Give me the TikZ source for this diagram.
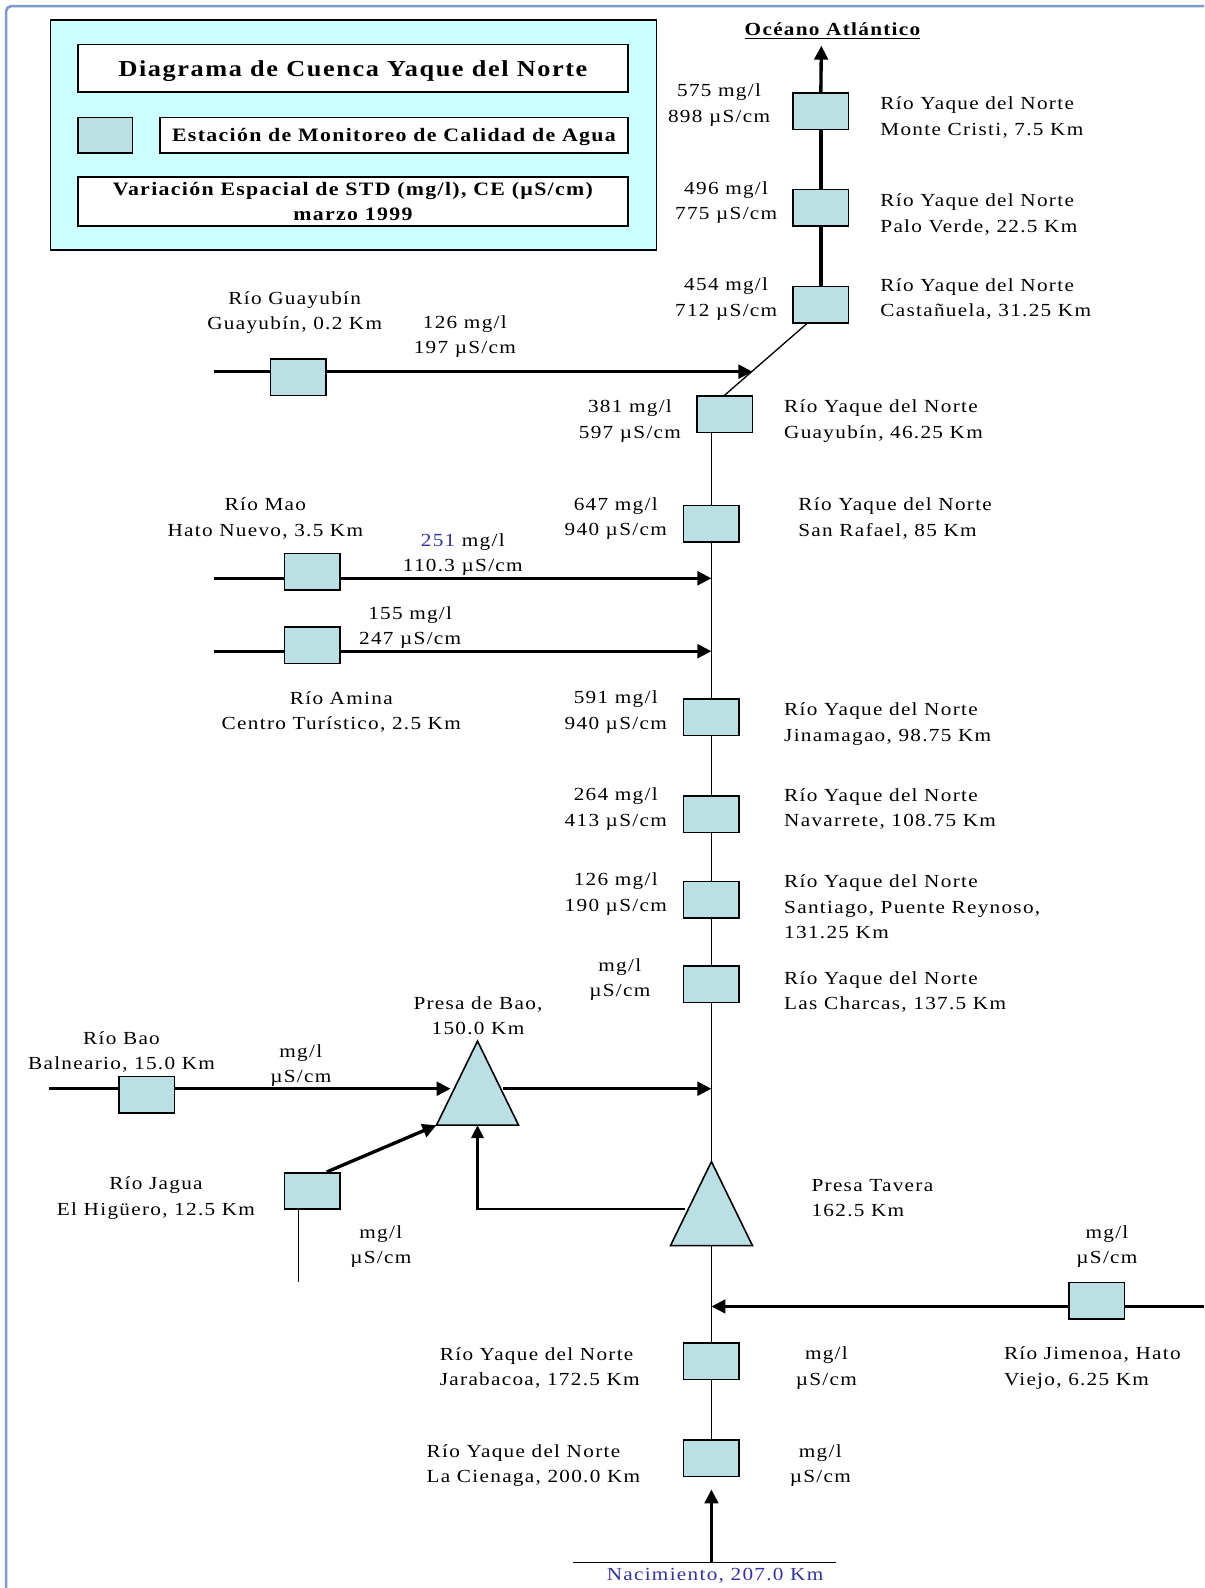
\documentclass[tikz,border=0pt]{standalone}
\usepackage{fontspec}
\setmainfont{Liberation Serif}[FakeStretch=1.15,LetterSpace=7]
\usepackage{tikz}
\usetikzlibrary{arrows.meta,positioning,calc}
\definecolor{stationfill}{RGB}{187,224,227}
\definecolor{legendfill}{RGB}{204,255,255}
\definecolor{frameblue}{RGB}{125,155,210}
\definecolor{labelblue}{RGB}{50,50,165}
\newcommand{\riverfont}{\fontsize{10.5}{14.5}\selectfont}
\tikzset{
    station/.style={
        rectangle,
        draw,
        fill=stationfill,
        line width=0.9pt,
        minimum width=1.11cm,
        minimum height=0.73cm,
        inner sep=0pt
    },
    dam/.style={draw, fill=stationfill, line width=0.9pt},
    keybox/.style={rectangle, draw, fill=white, line width=0.9pt, inner sep=0pt, align=center, font=\bfseries\fontsize{10.8}{13.8}\selectfont},
    datalabel/.style={inner sep=0pt, align=center, yshift=-0.05cm, font=\riverfont},
    sitelabel/.style={inner sep=0pt, align=left, anchor=west, yshift=-0.05cm, font=\riverfont},
    mainflow/.style={line width=1.9pt},
    stem/.style={line width=0.75pt},
    flow/.style={-{Triangle[length=0.28cm,width=0.27cm]}, line width=1.9pt},
    returnflow/.style={-{Triangle[length=0.26cm,width=0.25cm]}, line width=1.3pt},
}

\begin{document}
\begin{tikzpicture}[x=0.02025cm, y=-0.02025cm]
    \useasboundingbox (0,0) rectangle (1189,1568);
    \draw[frameblue, line width=1.5pt, rounded corners=3pt] (6,1568) |- (1189,6);

    \node[rectangle, draw, fill=legendfill, line width=0.9pt, minimum width=12.11cm, minimum height=4.6cm] (legend) at (349,133.5) {};
    \node[keybox, minimum width=11cm, minimum height=0.95cm, text depth=0pt, font=\bfseries\fontsize{13}{15}\selectfont] (title) at (348.5,67.5) {Diagrama de Cuenca Yaque del Norte};
    \node[station, minimum width=1.09cm, minimum height=0.71cm] (swatch) at (104,133.5) {};
    \node[keybox, minimum width=9.36cm, minimum height=0.71cm, text depth=0pt] (stationkey) at (389,133.5) {Estación de Monitoreo de Calidad de Agua};
    \node[keybox, minimum width=11cm, minimum height=0.97cm] (variation) at (348.5,199) {Variación Espacial de STD (mg/l), CE (µS/cm)\\marzo 1999};

    \node[inner sep=0pt, yshift=-0.05cm, font=\bfseries\fontsize{10.5}{13}\selectfont] (ocean) at (822,28) {\underline{Océano Atlántico}};
    \coordinate (oceantip) at (811,45);

    \node[station] (mc) at (810.5,110) {};
    \node[station] (pv) at (810.5,205) {};
    \node[station] (cas) at (810.5,301) {};
    \node[station] (gy) at (715.5,409) {};
    \node[station] (sr) at (702.5,517) {};
    \node[station] (jin) at (702.5,708) {};
    \node[station] (nav) at (702.5,804) {};
    \node[station] (stg) at (702.5,888.5) {};
    \node[station] (lch) at (702.5,972) {};
    \node[station] (jar) at (702.5,1344) {};
    \node[station] (cie) at (702.5,1440) {};

    \node[station] (gyr) at (294.5,372.5) {};
    \node[station] (mao) at (308.5,564.5) {};
    \node[station] (amina) at (308.5,637) {};
    \node[station] (baor) at (145,1081) {};
    \node[station] (jagua) at (308.5,1176) {};
    \node[station] (jim) at (1083,1284.5) {};

    \coordinate (baotop) at (471.5,1028);
    \coordinate (baoleft) at (431,1111);
    \coordinate (baoright) at (512,1111);
    \coordinate (baobase) at (471.5,1111);
    \draw[dam] (baotop) -- (baoleft) -- (baoright) -- cycle;
    \coordinate (tavtop) at (702.5,1147);
    \coordinate (tavleft) at (662,1230);
    \coordinate (tavright) at (743,1230);
    \coordinate (tavbase) at (702.5,1230);
    \draw[dam] (tavtop) -- (tavleft) -- (tavright) -- cycle;

    \coordinate (gywest) at (211,367);
    \coordinate (gyjoin) at (743,367);
    \coordinate (maowest) at (211,571);
    \coordinate (aminawest) at (211,643);
    \coordinate (baowest) at (48,1075);
    \coordinate (baoin) at (445,1075);
    \coordinate (baoout) at (497,1075);
    \coordinate (jagtail) at (295,1266);
    \coordinate (tavside) at (676,1194);
    \coordinate (jimeast) at (1189,1290);
    \coordinate (srcleft) at (566,1543);
    \coordinate (srcright) at (825,1543);

    \draw[flow] (mc.north) -- (oceantip);
    \draw[mainflow] (pv.north) -- (mc.south);
    \draw[mainflow] (cas.north) -- (pv.south);
    \draw[stem] ($(cas.south west)!0.25!(cas.south east)$) -- (gy.north);
    \draw[mainflow] (gywest) -- (gywest -| gyr.west);
    \draw[flow] (gywest -| gyr.east) -- (gyjoin);
    \draw[stem] (sr.north) -- (sr.north |- gy.south);
    \draw[mainflow] (maowest) -- (maowest -| mao.west);
    \draw[flow] (maowest -| mao.east) -- (maowest -| sr.south);
    \draw[mainflow] (aminawest) -- (aminawest -| amina.west);
    \draw[flow] (aminawest -| amina.east) -- (aminawest -| sr.south);
    \draw[stem] (sr.south) -- (jin.north);
    \draw[stem] (jin.south) -- (nav.north);
    \draw[stem] (nav.south) -- (stg.north);
    \draw[stem] (stg.south) -- (lch.north);
    \draw[stem] (lch.south) -- (tavtop);
    \draw[mainflow] (baowest) -- (baowest -| baor.west);
    \draw[flow] (baowest -| baor.east) -- (baoin);
    \draw[flow] (baoout) -- (baoout -| lch.south);
    \draw[flow] ($(jagua.north)!0.5!(jagua.north east)$) -- (baoleft);
    \draw[stem] (jagtail |- jagua.south) -- (jagtail);
    \draw[returnflow] (tavside) -| (baobase);
    \draw[stem] (tavbase) -- (jar.north);
    \draw[stem] (jar.south) -- (cie.north);
    \draw[mainflow] (jimeast) -- (jimeast -| jim.east);
    \draw[flow] (jimeast -| jim.west) -- (jimeast -| jar.north);
    \draw[stem] (srcleft) -- (srcright);
    \draw[flow, shorten >=0.24cm] (srcleft -| cie.south) -- (cie.south);

    \node[datalabel] (mcdata) at (710,101.5) {575 mg/l\\898 µS/cm};
    \node[sitelabel] (mcsite) at (869,113.5) {Río Yaque del Norte\\Monte Cristi, 7.5 Km};
    \node[datalabel] (pvdata) at (717,197.5) {496 mg/l\\775 µS/cm};
    \node[sitelabel] (pvsite) at (869,209.5) {Río Yaque del Norte\\Palo Verde, 22.5 Km};
    \node[datalabel] (casdata) at (717,293) {454 mg/l\\712 µS/cm};
    \node[sitelabel] (cassite) at (869,293) {Río Yaque del Norte\\Castañuela, 31.25 Km};
    \node[datalabel] (gydata) at (622,413.5) {381 mg/l\\597 µS/cm};
    \node[sitelabel] (gysite) at (774,413.5) {Río Yaque del Norte\\Guayubín, 46.25 Km};
    \node[datalabel] (gyrsite) at (291,306) {Río Guayubín\\Guayubín, 0.2 Km};
    \node[datalabel] (gyrdata) at (459,330) {126 mg/l\\197 µS/cm};
    \node[datalabel] (srdata) at (608,509.5) {647 mg/l\\940 µS/cm};
    \node[sitelabel] (srsite) at (788,509.5) {Río Yaque del Norte\\San Rafael, 85 Km};
    \node[datalabel] (maosite) at (262,509.5) {Río Mao\\Hato Nuevo, 3.5 Km};
    \node[datalabel] (maodata) at (457,545) {{\color{labelblue}251} mg/l\\110.3 µS/cm};
    \node[datalabel] (aminadata) at (405,617) {155 mg/l\\247 µS/cm};
    \node[datalabel] (aminasite) at (337,700.5) {Río Amina\\Centro Turístico, 2.5 Km};
    \node[datalabel] (jindata) at (608,700.5) {591 mg/l\\940 µS/cm};
    \node[sitelabel] (jinsite) at (774,712.5) {Río Yaque del Norte\\Jinamagao, 98.75 Km};
    \node[datalabel] (navdata) at (608,796.5) {264 mg/l\\413 µS/cm};
    \node[sitelabel] (navsite) at (774,796.5) {Río Yaque del Norte\\Navarrete, 108.75 Km};
    \node[datalabel] (stgdata) at (608,880.5) {126 mg/l\\190 µS/cm};
    \node[sitelabel] (stgsite) at (774,893) {Río Yaque del Norte\\Santiago, Puente Reynoso,\\131.25 Km};
    \node[datalabel] (lchdata) at (612,964.5) {mg/l\\µS/cm};
    \node[sitelabel] (lchsite) at (774,977) {Río Yaque del Norte\\Las Charcas, 137.5 Km};
    \node[datalabel] (baosite) at (472,1000.5) {Presa de Bao,\\150.0 Km};
    \node[datalabel] (baorsite) at (120,1036.5) {Río Bao\\Balneario, 15.0 Km};
    \node[datalabel] (baordata) at (297,1049.5) {mg/l\\µS/cm};
    \node[datalabel] (jaguasite) at (154,1180.5) {Río Jagua\\El Higüero, 12.5 Km};
    \node[datalabel] (jaguadata) at (376,1228.5) {mg/l\\µS/cm};
    \node[sitelabel] (tavsite) at (801,1180.5) {Presa Tavera\\162.5 Km};
    \node[datalabel] (jimdata) at (1093,1228.5) {mg/l\\µS/cm};
    \node[sitelabel] (jimsite) at (991,1348.5) {Río Jimenoa, Hato\\Viejo, 6.25 Km};
    \node[sitelabel] (jarsite) at (434,1348.5) {Río Yaque del Norte\\Jarabacoa, 172.5 Km};
    \node[datalabel] (jardata) at (816,1348.5) {mg/l\\µS/cm};
    \node[sitelabel] (ciesite) at (421,1444.5) {Río Yaque del Norte\\La Cienaga, 200.0 Km};
    \node[datalabel] (ciedata) at (810,1444.5) {mg/l\\µS/cm};
    \node[datalabel, text=labelblue] (source) at (706,1553) {Nacimiento, 207.0 Km};
\end{tikzpicture}
\end{document}
